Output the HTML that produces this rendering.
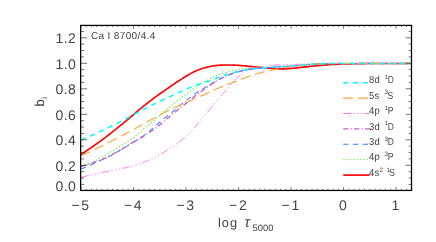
<!DOCTYPE html><html><head><meta charset="utf-8"><title>plot</title><style>html,body{margin:0;padding:0;background:#fff;}svg{display:block;will-change:transform}text{text-rendering:geometricPrecision;font-family:"Liberation Sans",sans-serif;fill:#444}</style></head><body>
<svg width="436" height="242" viewBox="0 0 436 242">
<rect width="436" height="242" fill="#fff"/>
<defs><clipPath id="c"><rect x="81.0" y="25.4" width="330.9" height="165.0"/></clipPath></defs>
<g clip-path="url(#c)" fill="none">
<path d="M81.0 154.6 L81.8 154.0 L82.7 153.5 L83.5 152.9 L84.3 152.3 L85.2 151.8 L86.0 151.2 L86.8 150.6 L87.6 150.0 L88.5 149.5 L89.3 148.9 L90.1 148.3 L91.0 147.7 L91.8 147.2 L92.6 146.6 L93.5 146.0 L94.3 145.4 L95.1 144.8 L95.9 144.3 L96.8 143.7 L97.6 143.1 L98.4 142.5 L99.3 141.9 L100.1 141.3 L100.9 140.7 L101.8 140.1 L102.6 139.5 L103.4 138.9 L104.2 138.3 L105.1 137.7 L105.9 137.1 L106.7 136.4 L107.6 135.8 L108.4 135.1 L109.2 134.5 L110.1 133.8 L110.9 133.2 L111.7 132.5 L112.5 131.8 L113.4 131.2 L114.2 130.5 L115.0 129.8 L115.9 129.2 L116.7 128.5 L117.5 127.8 L118.4 127.2 L119.2 126.5 L120.0 125.8 L120.8 125.2 L121.7 124.5 L122.5 123.8 L123.3 123.1 L124.2 122.5 L125.0 121.8 L125.8 121.1 L126.7 120.4 L127.5 119.7 L128.3 119.1 L129.1 118.4 L130.0 117.7 L130.8 116.9 L131.6 116.2 L132.5 115.5 L133.3 114.8 L134.1 114.1 L135.0 113.4 L135.8 112.6 L136.6 111.9 L137.4 111.2 L138.3 110.5 L139.1 109.8 L139.9 109.1 L140.8 108.4 L141.6 107.8 L142.4 107.1 L143.3 106.4 L144.1 105.7 L144.9 105.1 L145.7 104.4 L146.6 103.8 L147.4 103.1 L148.2 102.5 L149.1 101.8 L149.9 101.2 L150.7 100.5 L151.6 99.9 L152.4 99.3 L153.2 98.7 L154.0 98.0 L154.9 97.4 L155.7 96.8 L156.5 96.2 L157.4 95.6 L158.2 95.0 L159.0 94.4 L159.9 93.8 L160.7 93.2 L161.5 92.7 L162.3 92.1 L163.2 91.5 L164.0 90.9 L164.8 90.4 L165.7 89.8 L166.5 89.2 L167.3 88.6 L168.2 88.1 L169.0 87.5 L169.8 86.9 L170.6 86.3 L171.5 85.8 L172.3 85.2 L173.1 84.6 L174.0 84.1 L174.8 83.5 L175.6 82.9 L176.5 82.4 L177.3 81.8 L178.1 81.3 L178.9 80.7 L179.8 80.2 L180.6 79.6 L181.4 79.1 L182.3 78.6 L183.1 78.0 L183.9 77.5 L184.8 77.0 L185.6 76.5 L186.4 76.0 L187.2 75.5 L188.1 75.0 L188.9 74.5 L189.7 74.1 L190.6 73.6 L191.4 73.1 L192.2 72.7 L193.1 72.3 L193.9 71.8 L194.7 71.4 L195.6 71.0 L196.4 70.7 L197.2 70.3 L198.0 70.0 L198.9 69.7 L199.7 69.3 L200.5 69.1 L201.4 68.8 L202.2 68.5 L203.0 68.3 L203.9 68.0 L204.7 67.8 L205.5 67.6 L206.3 67.4 L207.2 67.1 L208.0 67.0 L208.8 66.8 L209.7 66.6 L210.5 66.4 L211.3 66.3 L212.2 66.1 L213.0 66.0 L213.8 65.8 L214.6 65.7 L215.5 65.6 L216.3 65.5 L217.1 65.4 L218.0 65.3 L218.8 65.2 L219.6 65.2 L220.5 65.1 L221.3 65.1 L222.1 65.1 L222.9 65.0 L223.8 65.0 L224.6 65.0 L225.4 65.0 L226.3 65.0 L227.1 65.0 L227.9 65.0 L228.8 65.0 L229.6 65.0 L230.4 65.0 L231.2 65.0 L232.1 65.0 L232.9 65.1 L233.7 65.1 L234.6 65.1 L235.4 65.2 L236.2 65.2 L237.1 65.2 L237.9 65.3 L238.7 65.4 L239.5 65.4 L240.4 65.5 L241.2 65.6 L242.0 65.6 L242.9 65.7 L243.7 65.8 L244.5 65.9 L245.4 65.9 L246.2 66.0 L247.0 66.1 L247.8 66.2 L248.7 66.3 L249.5 66.3 L250.3 66.4 L251.2 66.5 L252.0 66.6 L252.8 66.7 L253.7 66.7 L254.5 66.8 L255.3 66.9 L256.1 67.0 L257.0 67.1 L257.8 67.1 L258.6 67.2 L259.5 67.3 L260.3 67.4 L261.1 67.5 L262.0 67.6 L262.8 67.6 L263.6 67.7 L264.4 67.8 L265.3 67.9 L266.1 68.0 L266.9 68.0 L267.8 68.1 L268.6 68.2 L269.4 68.2 L270.3 68.3 L271.1 68.4 L271.9 68.4 L272.7 68.5 L273.6 68.6 L274.4 68.6 L275.2 68.7 L276.1 68.7 L276.9 68.7 L277.7 68.8 L278.6 68.8 L279.4 68.8 L280.2 68.8 L281.0 68.8 L281.9 68.8 L282.7 68.8 L283.5 68.8 L284.4 68.8 L285.2 68.8 L286.0 68.7 L286.9 68.7 L287.7 68.7 L288.5 68.6 L289.3 68.6 L290.2 68.5 L291.0 68.4 L291.8 68.4 L292.7 68.3 L293.5 68.2 L294.3 68.2 L295.2 68.1 L296.0 68.0 L296.8 67.9 L297.6 67.8 L298.5 67.7 L299.3 67.6 L300.1 67.5 L301.0 67.4 L301.8 67.3 L302.6 67.2 L303.5 67.1 L304.3 67.0 L305.1 66.9 L306.0 66.8 L306.8 66.8 L307.6 66.7 L308.4 66.6 L309.3 66.5 L310.1 66.4 L310.9 66.3 L311.8 66.2 L312.6 66.1 L313.4 66.0 L314.3 66.0 L315.1 65.9 L315.9 65.8 L316.7 65.7 L317.6 65.6 L318.4 65.6 L319.2 65.5 L320.1 65.4 L320.9 65.3 L321.7 65.3 L322.6 65.2 L323.4 65.1 L324.2 65.1 L325.0 65.0 L325.9 64.9 L326.7 64.9 L327.5 64.8 L328.4 64.7 L329.2 64.7 L330.0 64.6 L330.9 64.6 L331.7 64.5 L332.5 64.5 L333.3 64.4 L334.2 64.4 L335.0 64.3 L335.8 64.3 L336.7 64.2 L337.5 64.2 L338.3 64.2 L339.2 64.1 L340.0 64.1 L340.8 64.1 L341.6 64.0 L342.5 64.0 L343.3 64.0 L344.1 64.0 L345.0 63.9 L345.8 63.9 L346.6 63.9 L347.5 63.9 L348.3 63.8 L349.1 63.8 L349.9 63.8 L350.8 63.8 L351.6 63.8 L352.4 63.8 L353.3 63.7 L354.1 63.7 L354.9 63.7 L355.8 63.7 L356.6 63.7 L357.4 63.7 L358.2 63.6 L359.1 63.6 L359.9 63.6 L360.7 63.6 L361.6 63.6 L362.4 63.6 L363.2 63.6 L364.1 63.6 L364.9 63.6 L365.7 63.6 L366.5 63.5 L367.4 63.5 L368.2 63.5 L369.0 63.5 L369.9 63.5 L370.7 63.5 L371.5 63.5 L372.4 63.5 L373.2 63.5 L374.0 63.5 L374.8 63.5 L375.7 63.5 L376.5 63.5 L377.3 63.5 L378.2 63.5 L379.0 63.5 L379.8 63.5 L380.7 63.5 L381.5 63.5 L382.3 63.5 L383.1 63.5 L384.0 63.5 L384.8 63.5 L385.6 63.5 L386.5 63.5 L387.3 63.5 L388.1 63.5 L389.0 63.5 L389.8 63.5 L390.6 63.5 L391.4 63.5 L392.3 63.5 L393.1 63.5 L393.9 63.5 L394.8 63.5 L395.6 63.5 L396.4 63.5 L397.3 63.5 L398.1 63.5 L398.9 63.5 L399.7 63.5 L400.6 63.5 L401.4 63.5 L402.2 63.5 L403.1 63.5 L403.9 63.5 L404.7 63.5 L405.6 63.5 L406.4 63.5 L407.2 63.5 L408.0 63.5 L408.9 63.5 L409.7 63.5 L410.5 63.5 L411.4 63.5 L412.2 63.5" stroke="#ff0000" stroke-width="1.65"/>
<path d="M81.0 166.5 L81.8 166.3 L82.7 166.0 L83.5 165.8 L84.3 165.5 L85.2 165.2 L86.0 164.9 L86.8 164.6 L87.6 164.3 L88.5 163.9 L89.3 163.6 L90.1 163.2 L91.0 162.9 L91.8 162.5 L92.6 162.1 L93.5 161.7 L94.3 161.3 L95.1 160.8 L95.9 160.4 L96.8 160.0 L97.6 159.5 L98.4 159.1 L99.3 158.6 L100.1 158.2 L100.9 157.7 L101.8 157.3 L102.6 156.8 L103.4 156.3 L104.2 155.8 L105.1 155.4 L105.9 154.9 L106.7 154.4 L107.6 153.9 L108.4 153.4 L109.2 152.9 L110.1 152.4 L110.9 151.8 L111.7 151.3 L112.5 150.8 L113.4 150.3 L114.2 149.8 L115.0 149.3 L115.9 148.8 L116.7 148.3 L117.5 147.7 L118.4 147.2 L119.2 146.7 L120.0 146.2 L120.8 145.7 L121.7 145.2 L122.5 144.7 L123.3 144.2 L124.2 143.7 L125.0 143.2 L125.8 142.7 L126.7 142.2 L127.5 141.7 L128.3 141.1 L129.1 140.6 L130.0 140.0 L130.8 139.5 L131.6 138.9 L132.5 138.3 L133.3 137.7 L134.1 137.0 L135.0 136.3 L135.8 135.7 L136.6 135.0 L137.4 134.3 L138.3 133.5 L139.1 132.8 L139.9 132.1 L140.8 131.3 L141.6 130.6 L142.4 129.9 L143.3 129.2 L144.1 128.5 L144.9 127.8 L145.7 127.1 L146.6 126.4 L147.4 125.7 L148.2 125.0 L149.1 124.3 L149.9 123.7 L150.7 123.0 L151.6 122.3 L152.4 121.6 L153.2 120.9 L154.0 120.2 L154.9 119.6 L155.7 118.9 L156.5 118.2 L157.4 117.5 L158.2 116.9 L159.0 116.2 L159.9 115.5 L160.7 114.8 L161.5 114.1 L162.3 113.5 L163.2 112.8 L164.0 112.1 L164.8 111.4 L165.7 110.6 L166.5 109.9 L167.3 109.2 L168.2 108.5 L169.0 107.8 L169.8 107.1 L170.6 106.3 L171.5 105.6 L172.3 104.9 L173.1 104.2 L174.0 103.5 L174.8 102.8 L175.6 102.1 L176.5 101.4 L177.3 100.8 L178.1 100.1 L178.9 99.5 L179.8 98.8 L180.6 98.2 L181.4 97.5 L182.3 96.9 L183.1 96.3 L183.9 95.7 L184.8 95.0 L185.6 94.4 L186.4 93.8 L187.2 93.2 L188.1 92.6 L188.9 92.0 L189.7 91.3 L190.6 90.7 L191.4 90.1 L192.2 89.5 L193.1 88.9 L193.9 88.4 L194.7 87.8 L195.6 87.2 L196.4 86.7 L197.2 86.1 L198.0 85.6 L198.9 85.1 L199.7 84.5 L200.5 84.0 L201.4 83.5 L202.2 83.0 L203.0 82.6 L203.9 82.1 L204.7 81.6 L205.5 81.2 L206.3 80.7 L207.2 80.3 L208.0 79.8 L208.8 79.4 L209.7 79.0 L210.5 78.5 L211.3 78.1 L212.2 77.7 L213.0 77.3 L213.8 76.9 L214.6 76.5 L215.5 76.2 L216.3 75.8 L217.1 75.5 L218.0 75.1 L218.8 74.8 L219.6 74.4 L220.5 74.1 L221.3 73.8 L222.1 73.5 L222.9 73.3 L223.8 73.0 L224.6 72.7 L225.4 72.5 L226.3 72.2 L227.1 72.0 L227.9 71.7 L228.8 71.5 L229.6 71.3 L230.4 71.1 L231.2 70.9 L232.1 70.7 L232.9 70.5 L233.7 70.4 L234.6 70.2 L235.4 70.1 L236.2 69.9 L237.1 69.8 L237.9 69.6 L238.7 69.5 L239.5 69.4 L240.4 69.3 L241.2 69.2 L242.0 69.1 L242.9 69.0 L243.7 68.9 L244.5 68.8 L245.4 68.7 L246.2 68.6 L247.0 68.5 L247.8 68.5 L248.7 68.4 L249.5 68.3 L250.3 68.2 L251.2 68.2 L252.0 68.1 L252.8 68.1 L253.7 68.0 L254.5 67.9 L255.3 67.9 L256.1 67.8 L257.0 67.8 L257.8 67.8 L258.6 67.7 L259.5 67.7 L260.3 67.6 L261.1 67.6 L262.0 67.6 L262.8 67.5 L263.6 67.5 L264.4 67.5 L265.3 67.4 L266.1 67.4 L266.9 67.4 L267.8 67.3 L268.6 67.3 L269.4 67.3 L270.3 67.2 L271.1 67.2 L271.9 67.2 L272.7 67.1 L273.6 67.1 L274.4 67.0 L275.2 67.0 L276.1 67.0 L276.9 66.9 L277.7 66.9 L278.6 66.8 L279.4 66.8 L280.2 66.8 L281.0 66.7 L281.9 66.7 L282.7 66.6 L283.5 66.6 L284.4 66.5 L285.2 66.5 L286.0 66.4 L286.9 66.4 L287.7 66.3 L288.5 66.2 L289.3 66.2 L290.2 66.1 L291.0 66.1 L291.8 66.0 L292.7 65.9 L293.5 65.9 L294.3 65.8 L295.2 65.7 L296.0 65.6 L296.8 65.6 L297.6 65.5 L298.5 65.4 L299.3 65.4 L300.1 65.3 L301.0 65.2 L301.8 65.1 L302.6 65.1 L303.5 65.0 L304.3 64.9 L305.1 64.8 L306.0 64.8 L306.8 64.7 L307.6 64.6 L308.4 64.5 L309.3 64.5 L310.1 64.4 L310.9 64.3 L311.8 64.3 L312.6 64.2 L313.4 64.1 L314.3 64.1 L315.1 64.0 L315.9 64.0 L316.7 63.9 L317.6 63.9 L318.4 63.8 L319.2 63.8 L320.1 63.8 L320.9 63.7 L321.7 63.7 L322.6 63.7 L323.4 63.6 L324.2 63.6 L325.0 63.6 L325.9 63.6 L326.7 63.6 L327.5 63.6 L328.4 63.6 L329.2 63.5 L330.0 63.5 L330.9 63.5 L331.7 63.5 L332.5 63.5 L333.3 63.5 L334.2 63.5 L335.0 63.5 L335.8 63.5 L336.7 63.5 L337.5 63.5 L338.3 63.5 L339.2 63.5 L340.0 63.5 L340.8 63.5 L341.6 63.5 L342.5 63.5 L343.3 63.5 L344.1 63.5 L345.0 63.5 L345.8 63.5 L346.6 63.5 L347.5 63.5 L348.3 63.5 L349.1 63.5 L349.9 63.5 L350.8 63.5 L351.6 63.5 L352.4 63.5 L353.3 63.5 L354.1 63.5 L354.9 63.5 L355.8 63.5 L356.6 63.5 L357.4 63.5 L358.2 63.5 L359.1 63.5 L359.9 63.5 L360.7 63.5 L361.6 63.5 L362.4 63.5 L363.2 63.5 L364.1 63.5 L364.9 63.5 L365.7 63.5 L366.5 63.5 L367.4 63.5 L368.2 63.5 L369.0 63.5 L369.9 63.5 L370.7 63.5 L371.5 63.5 L372.4 63.5 L373.2 63.5 L374.0 63.5 L374.8 63.5 L375.7 63.5 L376.5 63.5 L377.3 63.5 L378.2 63.5 L379.0 63.5 L379.8 63.5 L380.7 63.5 L381.5 63.5 L382.3 63.5 L383.1 63.5 L384.0 63.5 L384.8 63.5 L385.6 63.5 L386.5 63.5 L387.3 63.5 L388.1 63.5 L389.0 63.5 L389.8 63.5 L390.6 63.5 L391.4 63.5 L392.3 63.5 L393.1 63.5 L393.9 63.5 L394.8 63.5 L395.6 63.5 L396.4 63.5 L397.3 63.5 L398.1 63.5 L398.9 63.5 L399.7 63.5 L400.6 63.5 L401.4 63.5 L402.2 63.5 L403.1 63.5 L403.9 63.5 L404.7 63.5 L405.6 63.5 L406.4 63.5 L407.2 63.5 L408.0 63.5 L408.9 63.5 L409.7 63.5 L410.5 63.5 L411.4 63.5 L412.2 63.5" stroke="#58ee32" stroke-width="1.35" stroke-dasharray="0.01 3.34" stroke-linecap="round"/>
<path d="M81.0 169.0 L81.8 168.7 L82.7 168.4 L83.5 168.1 L84.3 167.7 L85.2 167.4 L86.0 167.1 L86.8 166.7 L87.6 166.4 L88.5 166.0 L89.3 165.7 L90.1 165.3 L91.0 164.9 L91.8 164.5 L92.6 164.1 L93.5 163.7 L94.3 163.3 L95.1 162.9 L95.9 162.5 L96.8 162.1 L97.6 161.7 L98.4 161.3 L99.3 160.9 L100.1 160.5 L100.9 160.2 L101.8 159.8 L102.6 159.4 L103.4 159.1 L104.2 158.7 L105.1 158.3 L105.9 158.0 L106.7 157.6 L107.6 157.2 L108.4 156.8 L109.2 156.4 L110.1 155.9 L110.9 155.5 L111.7 155.1 L112.5 154.6 L113.4 154.2 L114.2 153.7 L115.0 153.2 L115.9 152.8 L116.7 152.3 L117.5 151.8 L118.4 151.3 L119.2 150.8 L120.0 150.3 L120.8 149.9 L121.7 149.4 L122.5 148.9 L123.3 148.4 L124.2 147.9 L125.0 147.4 L125.8 146.9 L126.7 146.4 L127.5 145.9 L128.3 145.3 L129.1 144.8 L130.0 144.3 L130.8 143.8 L131.6 143.3 L132.5 142.8 L133.3 142.3 L134.1 141.8 L135.0 141.3 L135.8 140.8 L136.6 140.3 L137.4 139.7 L138.3 139.2 L139.1 138.7 L139.9 138.1 L140.8 137.6 L141.6 137.0 L142.4 136.4 L143.3 135.9 L144.1 135.3 L144.9 134.7 L145.7 134.0 L146.6 133.4 L147.4 132.8 L148.2 132.1 L149.1 131.4 L149.9 130.8 L150.7 130.1 L151.6 129.4 L152.4 128.7 L153.2 128.0 L154.0 127.2 L154.9 126.5 L155.7 125.8 L156.5 125.1 L157.4 124.3 L158.2 123.6 L159.0 122.9 L159.9 122.1 L160.7 121.4 L161.5 120.7 L162.3 120.0 L163.2 119.3 L164.0 118.6 L164.8 117.9 L165.7 117.2 L166.5 116.6 L167.3 115.9 L168.2 115.3 L169.0 114.6 L169.8 113.9 L170.6 113.3 L171.5 112.6 L172.3 112.0 L173.1 111.3 L174.0 110.6 L174.8 109.9 L175.6 109.2 L176.5 108.5 L177.3 107.8 L178.1 107.1 L178.9 106.4 L179.8 105.7 L180.6 105.0 L181.4 104.3 L182.3 103.6 L183.1 102.9 L183.9 102.2 L184.8 101.6 L185.6 100.9 L186.4 100.2 L187.2 99.6 L188.1 98.9 L188.9 98.3 L189.7 97.6 L190.6 97.0 L191.4 96.4 L192.2 95.8 L193.1 95.2 L193.9 94.6 L194.7 94.0 L195.6 93.4 L196.4 92.9 L197.2 92.3 L198.0 91.8 L198.9 91.2 L199.7 90.7 L200.5 90.1 L201.4 89.6 L202.2 89.1 L203.0 88.6 L203.9 88.1 L204.7 87.6 L205.5 87.1 L206.3 86.6 L207.2 86.1 L208.0 85.6 L208.8 85.2 L209.7 84.7 L210.5 84.2 L211.3 83.8 L212.2 83.3 L213.0 82.8 L213.8 82.3 L214.6 81.9 L215.5 81.4 L216.3 81.0 L217.1 80.5 L218.0 80.1 L218.8 79.6 L219.6 79.2 L220.5 78.8 L221.3 78.3 L222.1 77.9 L222.9 77.5 L223.8 77.2 L224.6 76.8 L225.4 76.4 L226.3 76.1 L227.1 75.7 L227.9 75.4 L228.8 75.0 L229.6 74.7 L230.4 74.4 L231.2 74.1 L232.1 73.8 L232.9 73.5 L233.7 73.2 L234.6 72.9 L235.4 72.7 L236.2 72.4 L237.1 72.2 L237.9 72.0 L238.7 71.7 L239.5 71.5 L240.4 71.3 L241.2 71.1 L242.0 70.9 L242.9 70.7 L243.7 70.5 L244.5 70.3 L245.4 70.2 L246.2 70.0 L247.0 69.8 L247.8 69.7 L248.7 69.5 L249.5 69.4 L250.3 69.2 L251.2 69.1 L252.0 69.0 L252.8 68.8 L253.7 68.7 L254.5 68.6 L255.3 68.5 L256.1 68.4 L257.0 68.3 L257.8 68.2 L258.6 68.1 L259.5 68.1 L260.3 68.0 L261.1 67.9 L262.0 67.9 L262.8 67.8 L263.6 67.7 L264.4 67.7 L265.3 67.6 L266.1 67.6 L266.9 67.5 L267.8 67.5 L268.6 67.4 L269.4 67.4 L270.3 67.3 L271.1 67.3 L271.9 67.2 L272.7 67.2 L273.6 67.2 L274.4 67.1 L275.2 67.1 L276.1 67.0 L276.9 67.0 L277.7 66.9 L278.6 66.9 L279.4 66.8 L280.2 66.8 L281.0 66.7 L281.9 66.7 L282.7 66.6 L283.5 66.6 L284.4 66.5 L285.2 66.5 L286.0 66.4 L286.9 66.4 L287.7 66.3 L288.5 66.2 L289.3 66.2 L290.2 66.1 L291.0 66.0 L291.8 66.0 L292.7 65.9 L293.5 65.8 L294.3 65.8 L295.2 65.7 L296.0 65.6 L296.8 65.6 L297.6 65.5 L298.5 65.4 L299.3 65.4 L300.1 65.3 L301.0 65.2 L301.8 65.1 L302.6 65.1 L303.5 65.0 L304.3 64.9 L305.1 64.8 L306.0 64.8 L306.8 64.7 L307.6 64.6 L308.4 64.5 L309.3 64.5 L310.1 64.4 L310.9 64.3 L311.8 64.3 L312.6 64.2 L313.4 64.1 L314.3 64.1 L315.1 64.0 L315.9 64.0 L316.7 63.9 L317.6 63.9 L318.4 63.8 L319.2 63.8 L320.1 63.8 L320.9 63.7 L321.7 63.7 L322.6 63.7 L323.4 63.6 L324.2 63.6 L325.0 63.6 L325.9 63.6 L326.7 63.6 L327.5 63.6 L328.4 63.6 L329.2 63.5 L330.0 63.5 L330.9 63.5 L331.7 63.5 L332.5 63.5 L333.3 63.5 L334.2 63.5 L335.0 63.5 L335.8 63.5 L336.7 63.5 L337.5 63.5 L338.3 63.5 L339.2 63.5 L340.0 63.5 L340.8 63.5 L341.6 63.5 L342.5 63.5 L343.3 63.5 L344.1 63.5 L345.0 63.5 L345.8 63.5 L346.6 63.5 L347.5 63.5 L348.3 63.5 L349.1 63.5 L349.9 63.5 L350.8 63.5 L351.6 63.5 L352.4 63.5 L353.3 63.5 L354.1 63.5 L354.9 63.5 L355.8 63.5 L356.6 63.5 L357.4 63.5 L358.2 63.5 L359.1 63.5 L359.9 63.5 L360.7 63.5 L361.6 63.5 L362.4 63.5 L363.2 63.5 L364.1 63.5 L364.9 63.5 L365.7 63.5 L366.5 63.5 L367.4 63.5 L368.2 63.5 L369.0 63.5 L369.9 63.5 L370.7 63.5 L371.5 63.5 L372.4 63.5 L373.2 63.5 L374.0 63.5 L374.8 63.5 L375.7 63.5 L376.5 63.5 L377.3 63.5 L378.2 63.5 L379.0 63.5 L379.8 63.5 L380.7 63.5 L381.5 63.5 L382.3 63.5 L383.1 63.5 L384.0 63.5 L384.8 63.5 L385.6 63.5 L386.5 63.5 L387.3 63.5 L388.1 63.5 L389.0 63.5 L389.8 63.5 L390.6 63.5 L391.4 63.5 L392.3 63.5 L393.1 63.5 L393.9 63.5 L394.8 63.5 L395.6 63.5 L396.4 63.5 L397.3 63.5 L398.1 63.5 L398.9 63.5 L399.7 63.5 L400.6 63.5 L401.4 63.5 L402.2 63.5 L403.1 63.5 L403.9 63.5 L404.7 63.5 L405.6 63.5 L406.4 63.5 L407.2 63.5 L408.0 63.5 L408.9 63.5 L409.7 63.5 L410.5 63.5 L411.4 63.5 L412.2 63.5" stroke="#3580ff" stroke-width="1.05" stroke-dasharray="5.3 4.45"/>
<path d="M81.0 166.5 L81.8 166.2 L82.7 166.0 L83.5 165.8 L84.3 165.5 L85.2 165.3 L86.0 165.0 L86.8 164.7 L87.6 164.5 L88.5 164.2 L89.3 164.0 L90.1 163.7 L91.0 163.4 L91.8 163.1 L92.6 162.9 L93.5 162.6 L94.3 162.3 L95.1 162.0 L95.9 161.7 L96.8 161.4 L97.6 161.1 L98.4 160.8 L99.3 160.5 L100.1 160.2 L100.9 159.9 L101.8 159.6 L102.6 159.2 L103.4 158.9 L104.2 158.5 L105.1 158.2 L105.9 157.8 L106.7 157.4 L107.6 157.0 L108.4 156.6 L109.2 156.2 L110.1 155.7 L110.9 155.3 L111.7 154.9 L112.5 154.4 L113.4 154.0 L114.2 153.5 L115.0 153.0 L115.9 152.5 L116.7 152.1 L117.5 151.6 L118.4 151.1 L119.2 150.6 L120.0 150.1 L120.8 149.6 L121.7 149.1 L122.5 148.6 L123.3 148.1 L124.2 147.6 L125.0 147.1 L125.8 146.6 L126.7 146.1 L127.5 145.6 L128.3 145.1 L129.1 144.6 L130.0 144.2 L130.8 143.7 L131.6 143.2 L132.5 142.7 L133.3 142.2 L134.1 141.7 L135.0 141.2 L135.8 140.8 L136.6 140.3 L137.4 139.8 L138.3 139.3 L139.1 138.8 L139.9 138.3 L140.8 137.8 L141.6 137.3 L142.4 136.8 L143.3 136.3 L144.1 135.8 L144.9 135.3 L145.7 134.7 L146.6 134.2 L147.4 133.7 L148.2 133.1 L149.1 132.6 L149.9 132.0 L150.7 131.5 L151.6 130.9 L152.4 130.3 L153.2 129.8 L154.0 129.2 L154.9 128.6 L155.7 128.0 L156.5 127.4 L157.4 126.7 L158.2 126.1 L159.0 125.4 L159.9 124.8 L160.7 124.1 L161.5 123.4 L162.3 122.7 L163.2 122.0 L164.0 121.3 L164.8 120.6 L165.7 119.8 L166.5 119.1 L167.3 118.4 L168.2 117.7 L169.0 117.0 L169.8 116.3 L170.6 115.6 L171.5 115.0 L172.3 114.3 L173.1 113.6 L174.0 112.9 L174.8 112.3 L175.6 111.6 L176.5 111.0 L177.3 110.3 L178.1 109.6 L178.9 109.0 L179.8 108.3 L180.6 107.6 L181.4 107.0 L182.3 106.3 L183.1 105.6 L183.9 104.9 L184.8 104.3 L185.6 103.6 L186.4 102.9 L187.2 102.2 L188.1 101.6 L188.9 100.9 L189.7 100.2 L190.6 99.5 L191.4 98.9 L192.2 98.2 L193.1 97.6 L193.9 96.9 L194.7 96.3 L195.6 95.6 L196.4 95.0 L197.2 94.4 L198.0 93.7 L198.9 93.1 L199.7 92.5 L200.5 91.9 L201.4 91.3 L202.2 90.7 L203.0 90.1 L203.9 89.5 L204.7 88.9 L205.5 88.3 L206.3 87.7 L207.2 87.2 L208.0 86.6 L208.8 86.0 L209.7 85.4 L210.5 84.8 L211.3 84.3 L212.2 83.7 L213.0 83.1 L213.8 82.6 L214.6 82.0 L215.5 81.5 L216.3 81.0 L217.1 80.5 L218.0 80.0 L218.8 79.5 L219.6 79.0 L220.5 78.6 L221.3 78.1 L222.1 77.7 L222.9 77.3 L223.8 76.9 L224.6 76.6 L225.4 76.2 L226.3 75.8 L227.1 75.5 L227.9 75.2 L228.8 74.8 L229.6 74.5 L230.4 74.2 L231.2 73.9 L232.1 73.6 L232.9 73.4 L233.7 73.1 L234.6 72.8 L235.4 72.6 L236.2 72.3 L237.1 72.1 L237.9 71.8 L238.7 71.6 L239.5 71.4 L240.4 71.2 L241.2 71.0 L242.0 70.8 L242.9 70.6 L243.7 70.4 L244.5 70.2 L245.4 70.1 L246.2 69.9 L247.0 69.7 L247.8 69.6 L248.7 69.4 L249.5 69.3 L250.3 69.2 L251.2 69.0 L252.0 68.9 L252.8 68.8 L253.7 68.7 L254.5 68.6 L255.3 68.5 L256.1 68.4 L257.0 68.3 L257.8 68.2 L258.6 68.1 L259.5 68.1 L260.3 68.0 L261.1 67.9 L262.0 67.9 L262.8 67.8 L263.6 67.7 L264.4 67.7 L265.3 67.6 L266.1 67.6 L266.9 67.5 L267.8 67.5 L268.6 67.4 L269.4 67.4 L270.3 67.3 L271.1 67.3 L271.9 67.2 L272.7 67.2 L273.6 67.2 L274.4 67.1 L275.2 67.1 L276.1 67.0 L276.9 67.0 L277.7 66.9 L278.6 66.9 L279.4 66.8 L280.2 66.8 L281.0 66.7 L281.9 66.7 L282.7 66.6 L283.5 66.6 L284.4 66.5 L285.2 66.5 L286.0 66.4 L286.9 66.4 L287.7 66.3 L288.5 66.2 L289.3 66.2 L290.2 66.1 L291.0 66.0 L291.8 66.0 L292.7 65.9 L293.5 65.8 L294.3 65.8 L295.2 65.7 L296.0 65.6 L296.8 65.6 L297.6 65.5 L298.5 65.4 L299.3 65.4 L300.1 65.3 L301.0 65.2 L301.8 65.1 L302.6 65.1 L303.5 65.0 L304.3 64.9 L305.1 64.8 L306.0 64.8 L306.8 64.7 L307.6 64.6 L308.4 64.5 L309.3 64.5 L310.1 64.4 L310.9 64.3 L311.8 64.3 L312.6 64.2 L313.4 64.1 L314.3 64.1 L315.1 64.0 L315.9 64.0 L316.7 63.9 L317.6 63.9 L318.4 63.8 L319.2 63.8 L320.1 63.8 L320.9 63.7 L321.7 63.7 L322.6 63.7 L323.4 63.6 L324.2 63.6 L325.0 63.6 L325.9 63.6 L326.7 63.6 L327.5 63.6 L328.4 63.6 L329.2 63.5 L330.0 63.5 L330.9 63.5 L331.7 63.5 L332.5 63.5 L333.3 63.5 L334.2 63.5 L335.0 63.5 L335.8 63.5 L336.7 63.5 L337.5 63.5 L338.3 63.5 L339.2 63.5 L340.0 63.5 L340.8 63.5 L341.6 63.5 L342.5 63.5 L343.3 63.5 L344.1 63.5 L345.0 63.5 L345.8 63.5 L346.6 63.5 L347.5 63.5 L348.3 63.5 L349.1 63.5 L349.9 63.5 L350.8 63.5 L351.6 63.5 L352.4 63.5 L353.3 63.5 L354.1 63.5 L354.9 63.5 L355.8 63.5 L356.6 63.5 L357.4 63.5 L358.2 63.5 L359.1 63.5 L359.9 63.5 L360.7 63.5 L361.6 63.5 L362.4 63.5 L363.2 63.5 L364.1 63.5 L364.9 63.5 L365.7 63.5 L366.5 63.5 L367.4 63.5 L368.2 63.5 L369.0 63.5 L369.9 63.5 L370.7 63.5 L371.5 63.5 L372.4 63.5 L373.2 63.5 L374.0 63.5 L374.8 63.5 L375.7 63.5 L376.5 63.5 L377.3 63.5 L378.2 63.5 L379.0 63.5 L379.8 63.5 L380.7 63.5 L381.5 63.5 L382.3 63.5 L383.1 63.5 L384.0 63.5 L384.8 63.5 L385.6 63.5 L386.5 63.5 L387.3 63.5 L388.1 63.5 L389.0 63.5 L389.8 63.5 L390.6 63.5 L391.4 63.5 L392.3 63.5 L393.1 63.5 L393.9 63.5 L394.8 63.5 L395.6 63.5 L396.4 63.5 L397.3 63.5 L398.1 63.5 L398.9 63.5 L399.7 63.5 L400.6 63.5 L401.4 63.5 L402.2 63.5 L403.1 63.5 L403.9 63.5 L404.7 63.5 L405.6 63.5 L406.4 63.5 L407.2 63.5 L408.0 63.5 L408.9 63.5 L409.7 63.5 L410.5 63.5 L411.4 63.5 L412.2 63.5" stroke="#c45fd0" stroke-width="1.40" stroke-dasharray="5.2 2.4 1 2.35"/>
<path d="M81.0 177.2 L81.8 177.0 L82.7 176.8 L83.5 176.6 L84.3 176.5 L85.2 176.3 L86.0 176.1 L86.8 175.9 L87.6 175.7 L88.5 175.5 L89.3 175.3 L90.1 175.2 L91.0 175.0 L91.8 174.8 L92.6 174.6 L93.5 174.4 L94.3 174.2 L95.1 174.0 L95.9 173.9 L96.8 173.7 L97.6 173.5 L98.4 173.3 L99.3 173.1 L100.1 172.9 L100.9 172.8 L101.8 172.6 L102.6 172.4 L103.4 172.2 L104.2 172.1 L105.1 171.9 L105.9 171.7 L106.7 171.5 L107.6 171.4 L108.4 171.2 L109.2 171.1 L110.1 170.9 L110.9 170.7 L111.7 170.6 L112.5 170.4 L113.4 170.3 L114.2 170.1 L115.0 169.9 L115.9 169.8 L116.7 169.6 L117.5 169.4 L118.4 169.3 L119.2 169.1 L120.0 168.9 L120.8 168.7 L121.7 168.5 L122.5 168.4 L123.3 168.2 L124.2 168.0 L125.0 167.8 L125.8 167.6 L126.7 167.4 L127.5 167.1 L128.3 166.9 L129.1 166.7 L130.0 166.5 L130.8 166.3 L131.6 166.0 L132.5 165.8 L133.3 165.6 L134.1 165.3 L135.0 165.1 L135.8 164.8 L136.6 164.6 L137.4 164.3 L138.3 164.1 L139.1 163.8 L139.9 163.5 L140.8 163.2 L141.6 163.0 L142.4 162.7 L143.3 162.4 L144.1 162.0 L144.9 161.7 L145.7 161.4 L146.6 161.1 L147.4 160.7 L148.2 160.4 L149.1 160.0 L149.9 159.6 L150.7 159.3 L151.6 158.9 L152.4 158.5 L153.2 158.1 L154.0 157.7 L154.9 157.3 L155.7 156.8 L156.5 156.4 L157.4 156.0 L158.2 155.5 L159.0 155.1 L159.9 154.6 L160.7 154.1 L161.5 153.6 L162.3 153.1 L163.2 152.6 L164.0 152.1 L164.8 151.6 L165.7 151.1 L166.5 150.6 L167.3 150.0 L168.2 149.5 L169.0 149.0 L169.8 148.4 L170.6 147.9 L171.5 147.3 L172.3 146.8 L173.1 146.2 L174.0 145.6 L174.8 145.0 L175.6 144.5 L176.5 143.9 L177.3 143.3 L178.1 142.7 L178.9 142.1 L179.8 141.5 L180.6 140.8 L181.4 140.2 L182.3 139.6 L183.1 138.9 L183.9 138.3 L184.8 137.6 L185.6 136.9 L186.4 136.2 L187.2 135.4 L188.1 134.6 L188.9 133.8 L189.7 133.0 L190.6 132.1 L191.4 131.2 L192.2 130.3 L193.1 129.3 L193.9 128.3 L194.7 127.4 L195.6 126.4 L196.4 125.4 L197.2 124.4 L198.0 123.4 L198.9 122.4 L199.7 121.5 L200.5 120.5 L201.4 119.5 L202.2 118.6 L203.0 117.6 L203.9 116.6 L204.7 115.7 L205.5 114.7 L206.3 113.7 L207.2 112.7 L208.0 111.6 L208.8 110.6 L209.7 109.6 L210.5 108.5 L211.3 107.5 L212.2 106.4 L213.0 105.4 L213.8 104.3 L214.6 103.3 L215.5 102.3 L216.3 101.3 L217.1 100.4 L218.0 99.4 L218.8 98.5 L219.6 97.5 L220.5 96.6 L221.3 95.6 L222.1 94.7 L222.9 93.7 L223.8 92.7 L224.6 91.8 L225.4 90.8 L226.3 89.8 L227.1 88.8 L227.9 87.8 L228.8 86.8 L229.6 85.8 L230.4 84.9 L231.2 83.9 L232.1 82.9 L232.9 82.0 L233.7 81.1 L234.6 80.2 L235.4 79.3 L236.2 78.5 L237.1 77.7 L237.9 76.9 L238.7 76.2 L239.5 75.4 L240.4 74.8 L241.2 74.2 L242.0 73.6 L242.9 73.0 L243.7 72.5 L244.5 72.0 L245.4 71.6 L246.2 71.1 L247.0 70.7 L247.8 70.4 L248.7 70.0 L249.5 69.7 L250.3 69.4 L251.2 69.1 L252.0 68.8 L252.8 68.6 L253.7 68.3 L254.5 68.1 L255.3 67.9 L256.1 67.7 L257.0 67.5 L257.8 67.4 L258.6 67.2 L259.5 67.0 L260.3 66.9 L261.1 66.7 L262.0 66.6 L262.8 66.5 L263.6 66.3 L264.4 66.2 L265.3 66.1 L266.1 66.0 L266.9 65.9 L267.8 65.8 L268.6 65.7 L269.4 65.6 L270.3 65.5 L271.1 65.5 L271.9 65.4 L272.7 65.3 L273.6 65.3 L274.4 65.2 L275.2 65.2 L276.1 65.1 L276.9 65.1 L277.7 65.0 L278.6 65.0 L279.4 65.0 L280.2 64.9 L281.0 64.9 L281.9 64.9 L282.7 64.8 L283.5 64.8 L284.4 64.8 L285.2 64.7 L286.0 64.7 L286.9 64.7 L287.7 64.7 L288.5 64.6 L289.3 64.6 L290.2 64.6 L291.0 64.5 L291.8 64.5 L292.7 64.5 L293.5 64.5 L294.3 64.4 L295.2 64.4 L296.0 64.4 L296.8 64.3 L297.6 64.3 L298.5 64.3 L299.3 64.2 L300.1 64.2 L301.0 64.2 L301.8 64.2 L302.6 64.1 L303.5 64.1 L304.3 64.1 L305.1 64.0 L306.0 64.0 L306.8 64.0 L307.6 64.0 L308.4 63.9 L309.3 63.9 L310.1 63.9 L310.9 63.8 L311.8 63.8 L312.6 63.8 L313.4 63.7 L314.3 63.7 L315.1 63.7 L315.9 63.6 L316.7 63.6 L317.6 63.6 L318.4 63.6 L319.2 63.6 L320.1 63.5 L320.9 63.5 L321.7 63.5 L322.6 63.5 L323.4 63.5 L324.2 63.5 L325.0 63.5 L325.9 63.5 L326.7 63.5 L327.5 63.5 L328.4 63.5 L329.2 63.5 L330.0 63.5 L330.9 63.5 L331.7 63.5 L332.5 63.5 L333.3 63.5 L334.2 63.5 L335.0 63.5 L335.8 63.5 L336.7 63.5 L337.5 63.5 L338.3 63.5 L339.2 63.5 L340.0 63.5 L340.8 63.5 L341.6 63.5 L342.5 63.5 L343.3 63.5 L344.1 63.5 L345.0 63.5 L345.8 63.5 L346.6 63.5 L347.5 63.5 L348.3 63.5 L349.1 63.5 L349.9 63.5 L350.8 63.5 L351.6 63.5 L352.4 63.5 L353.3 63.5 L354.1 63.5 L354.9 63.5 L355.8 63.5 L356.6 63.5 L357.4 63.5 L358.2 63.5 L359.1 63.5 L359.9 63.5 L360.7 63.5 L361.6 63.5 L362.4 63.5 L363.2 63.5 L364.1 63.5 L364.9 63.5 L365.7 63.5 L366.5 63.5 L367.4 63.5 L368.2 63.5 L369.0 63.5 L369.9 63.5 L370.7 63.5 L371.5 63.5 L372.4 63.5 L373.2 63.5 L374.0 63.5 L374.8 63.5 L375.7 63.5 L376.5 63.5 L377.3 63.5 L378.2 63.5 L379.0 63.5 L379.8 63.5 L380.7 63.5 L381.5 63.5 L382.3 63.5 L383.1 63.5 L384.0 63.5 L384.8 63.5 L385.6 63.5 L386.5 63.5 L387.3 63.5 L388.1 63.5 L389.0 63.5 L389.8 63.5 L390.6 63.5 L391.4 63.5 L392.3 63.5 L393.1 63.5 L393.9 63.5 L394.8 63.5 L395.6 63.5 L396.4 63.5 L397.3 63.5 L398.1 63.5 L398.9 63.5 L399.7 63.5 L400.6 63.5 L401.4 63.5 L402.2 63.5 L403.1 63.5 L403.9 63.5 L404.7 63.5 L405.6 63.5 L406.4 63.5 L407.2 63.5 L408.0 63.5 L408.9 63.5 L409.7 63.5 L410.5 63.5 L411.4 63.5 L412.2 63.5" stroke="#ff62ff" stroke-width="0.90" stroke-dasharray="7.8 2.3 1.2 2.6 1.2 2.6 1.2 2.1"/>
<path d="M81.0 155.6 L81.8 155.2 L82.7 154.9 L83.5 154.6 L84.3 154.2 L85.2 153.9 L86.0 153.5 L86.8 153.1 L87.6 152.8 L88.5 152.4 L89.3 152.1 L90.1 151.7 L91.0 151.3 L91.8 150.9 L92.6 150.5 L93.5 150.1 L94.3 149.7 L95.1 149.3 L95.9 148.9 L96.8 148.5 L97.6 148.1 L98.4 147.7 L99.3 147.3 L100.1 146.9 L100.9 146.4 L101.8 146.0 L102.6 145.6 L103.4 145.2 L104.2 144.7 L105.1 144.3 L105.9 143.9 L106.7 143.5 L107.6 143.0 L108.4 142.6 L109.2 142.2 L110.1 141.8 L110.9 141.3 L111.7 140.9 L112.5 140.5 L113.4 140.0 L114.2 139.6 L115.0 139.2 L115.9 138.8 L116.7 138.3 L117.5 137.9 L118.4 137.5 L119.2 137.0 L120.0 136.6 L120.8 136.2 L121.7 135.8 L122.5 135.3 L123.3 134.9 L124.2 134.5 L125.0 134.1 L125.8 133.6 L126.7 133.2 L127.5 132.8 L128.3 132.3 L129.1 131.9 L130.0 131.4 L130.8 131.0 L131.6 130.5 L132.5 130.1 L133.3 129.6 L134.1 129.2 L135.0 128.7 L135.8 128.2 L136.6 127.8 L137.4 127.3 L138.3 126.8 L139.1 126.4 L139.9 125.9 L140.8 125.4 L141.6 125.0 L142.4 124.5 L143.3 124.1 L144.1 123.6 L144.9 123.1 L145.7 122.7 L146.6 122.2 L147.4 121.8 L148.2 121.3 L149.1 120.9 L149.9 120.5 L150.7 120.0 L151.6 119.6 L152.4 119.1 L153.2 118.7 L154.0 118.2 L154.9 117.8 L155.7 117.3 L156.5 116.9 L157.4 116.4 L158.2 116.0 L159.0 115.5 L159.9 115.1 L160.7 114.6 L161.5 114.2 L162.3 113.7 L163.2 113.3 L164.0 112.8 L164.8 112.4 L165.7 112.0 L166.5 111.5 L167.3 111.1 L168.2 110.7 L169.0 110.3 L169.8 109.9 L170.6 109.4 L171.5 109.0 L172.3 108.6 L173.1 108.2 L174.0 107.8 L174.8 107.5 L175.6 107.1 L176.5 106.7 L177.3 106.3 L178.1 105.9 L178.9 105.6 L179.8 105.2 L180.6 104.9 L181.4 104.5 L182.3 104.1 L183.1 103.8 L183.9 103.4 L184.8 103.1 L185.6 102.7 L186.4 102.4 L187.2 102.0 L188.1 101.7 L188.9 101.3 L189.7 101.0 L190.6 100.6 L191.4 100.2 L192.2 99.9 L193.1 99.5 L193.9 99.1 L194.7 98.8 L195.6 98.4 L196.4 98.0 L197.2 97.7 L198.0 97.3 L198.9 96.9 L199.7 96.5 L200.5 96.2 L201.4 95.8 L202.2 95.4 L203.0 95.1 L203.9 94.7 L204.7 94.3 L205.5 93.9 L206.3 93.6 L207.2 93.2 L208.0 92.8 L208.8 92.4 L209.7 92.1 L210.5 91.7 L211.3 91.3 L212.2 91.0 L213.0 90.6 L213.8 90.2 L214.6 89.8 L215.5 89.5 L216.3 89.1 L217.1 88.7 L218.0 88.4 L218.8 88.0 L219.6 87.6 L220.5 87.3 L221.3 86.9 L222.1 86.6 L222.9 86.3 L223.8 85.9 L224.6 85.6 L225.4 85.3 L226.3 84.9 L227.1 84.6 L227.9 84.3 L228.8 84.0 L229.6 83.6 L230.4 83.3 L231.2 83.0 L232.1 82.7 L232.9 82.4 L233.7 82.1 L234.6 81.7 L235.4 81.4 L236.2 81.1 L237.1 80.8 L237.9 80.5 L238.7 80.1 L239.5 79.8 L240.4 79.5 L241.2 79.2 L242.0 78.9 L242.9 78.6 L243.7 78.3 L244.5 78.0 L245.4 77.7 L246.2 77.4 L247.0 77.1 L247.8 76.8 L248.7 76.5 L249.5 76.2 L250.3 75.9 L251.2 75.6 L252.0 75.4 L252.8 75.1 L253.7 74.8 L254.5 74.6 L255.3 74.3 L256.1 74.0 L257.0 73.8 L257.8 73.5 L258.6 73.3 L259.5 73.1 L260.3 72.9 L261.1 72.6 L262.0 72.4 L262.8 72.2 L263.6 72.0 L264.4 71.8 L265.3 71.6 L266.1 71.4 L266.9 71.2 L267.8 71.0 L268.6 70.8 L269.4 70.7 L270.3 70.5 L271.1 70.3 L271.9 70.1 L272.7 69.9 L273.6 69.8 L274.4 69.6 L275.2 69.4 L276.1 69.3 L276.9 69.1 L277.7 68.9 L278.6 68.8 L279.4 68.6 L280.2 68.5 L281.0 68.3 L281.9 68.2 L282.7 68.0 L283.5 67.9 L284.4 67.7 L285.2 67.6 L286.0 67.5 L286.9 67.3 L287.7 67.2 L288.5 67.1 L289.3 66.9 L290.2 66.8 L291.0 66.7 L291.8 66.6 L292.7 66.5 L293.5 66.3 L294.3 66.2 L295.2 66.1 L296.0 66.0 L296.8 65.9 L297.6 65.8 L298.5 65.7 L299.3 65.6 L300.1 65.5 L301.0 65.4 L301.8 65.3 L302.6 65.2 L303.5 65.1 L304.3 65.1 L305.1 65.0 L306.0 64.9 L306.8 64.8 L307.6 64.7 L308.4 64.6 L309.3 64.6 L310.1 64.5 L310.9 64.4 L311.8 64.3 L312.6 64.3 L313.4 64.2 L314.3 64.1 L315.1 64.1 L315.9 64.0 L316.7 63.9 L317.6 63.9 L318.4 63.8 L319.2 63.8 L320.1 63.8 L320.9 63.7 L321.7 63.7 L322.6 63.7 L323.4 63.6 L324.2 63.6 L325.0 63.6 L325.9 63.6 L326.7 63.6 L327.5 63.6 L328.4 63.6 L329.2 63.5 L330.0 63.5 L330.9 63.5 L331.7 63.5 L332.5 63.5 L333.3 63.5 L334.2 63.5 L335.0 63.5 L335.8 63.5 L336.7 63.5 L337.5 63.5 L338.3 63.5 L339.2 63.5 L340.0 63.5 L340.8 63.5 L341.6 63.5 L342.5 63.5 L343.3 63.5 L344.1 63.5 L345.0 63.5 L345.8 63.5 L346.6 63.5 L347.5 63.5 L348.3 63.5 L349.1 63.5 L349.9 63.5 L350.8 63.5 L351.6 63.5 L352.4 63.5 L353.3 63.5 L354.1 63.5 L354.9 63.5 L355.8 63.5 L356.6 63.5 L357.4 63.5 L358.2 63.5 L359.1 63.5 L359.9 63.5 L360.7 63.5 L361.6 63.5 L362.4 63.5 L363.2 63.5 L364.1 63.5 L364.9 63.5 L365.7 63.5 L366.5 63.5 L367.4 63.5 L368.2 63.5 L369.0 63.5 L369.9 63.5 L370.7 63.5 L371.5 63.5 L372.4 63.5 L373.2 63.5 L374.0 63.5 L374.8 63.5 L375.7 63.5 L376.5 63.5 L377.3 63.5 L378.2 63.5 L379.0 63.5 L379.8 63.5 L380.7 63.5 L381.5 63.5 L382.3 63.5 L383.1 63.5 L384.0 63.5 L384.8 63.5 L385.6 63.5 L386.5 63.5 L387.3 63.5 L388.1 63.5 L389.0 63.5 L389.8 63.5 L390.6 63.5 L391.4 63.5 L392.3 63.5 L393.1 63.5 L393.9 63.5 L394.8 63.5 L395.6 63.5 L396.4 63.5 L397.3 63.5 L398.1 63.5 L398.9 63.5 L399.7 63.5 L400.6 63.5 L401.4 63.5 L402.2 63.5 L403.1 63.5 L403.9 63.5 L404.7 63.5 L405.6 63.5 L406.4 63.5 L407.2 63.5 L408.0 63.5 L408.9 63.5 L409.7 63.5 L410.5 63.5 L411.4 63.5 L412.2 63.5" stroke="#ffa436" stroke-width="1.15" stroke-dasharray="10 4.8"/>
<path d="M81.0 139.8 L81.8 139.5 L82.7 139.1 L83.5 138.8 L84.3 138.5 L85.2 138.1 L86.0 137.8 L86.8 137.4 L87.6 137.1 L88.5 136.7 L89.3 136.4 L90.1 136.0 L91.0 135.7 L91.8 135.3 L92.6 134.9 L93.5 134.6 L94.3 134.2 L95.1 133.8 L95.9 133.4 L96.8 133.1 L97.6 132.7 L98.4 132.3 L99.3 131.9 L100.1 131.5 L100.9 131.1 L101.8 130.7 L102.6 130.3 L103.4 129.9 L104.2 129.5 L105.1 129.1 L105.9 128.7 L106.7 128.3 L107.6 127.9 L108.4 127.5 L109.2 127.2 L110.1 126.8 L110.9 126.4 L111.7 126.0 L112.5 125.6 L113.4 125.2 L114.2 124.8 L115.0 124.4 L115.9 124.0 L116.7 123.6 L117.5 123.1 L118.4 122.7 L119.2 122.3 L120.0 121.9 L120.8 121.5 L121.7 121.0 L122.5 120.6 L123.3 120.2 L124.2 119.8 L125.0 119.3 L125.8 118.9 L126.7 118.4 L127.5 118.0 L128.3 117.6 L129.1 117.1 L130.0 116.7 L130.8 116.2 L131.6 115.8 L132.5 115.3 L133.3 114.9 L134.1 114.4 L135.0 114.0 L135.8 113.5 L136.6 113.1 L137.4 112.6 L138.3 112.2 L139.1 111.7 L139.9 111.3 L140.8 110.8 L141.6 110.4 L142.4 110.0 L143.3 109.5 L144.1 109.1 L144.9 108.7 L145.7 108.2 L146.6 107.8 L147.4 107.4 L148.2 107.0 L149.1 106.5 L149.9 106.1 L150.7 105.7 L151.6 105.3 L152.4 104.9 L153.2 104.5 L154.0 104.1 L154.9 103.7 L155.7 103.3 L156.5 102.9 L157.4 102.5 L158.2 102.1 L159.0 101.7 L159.9 101.3 L160.7 100.9 L161.5 100.5 L162.3 100.1 L163.2 99.8 L164.0 99.4 L164.8 99.0 L165.7 98.6 L166.5 98.2 L167.3 97.8 L168.2 97.5 L169.0 97.1 L169.8 96.7 L170.6 96.3 L171.5 95.9 L172.3 95.6 L173.1 95.2 L174.0 94.8 L174.8 94.4 L175.6 94.0 L176.5 93.6 L177.3 93.2 L178.1 92.9 L178.9 92.5 L179.8 92.1 L180.6 91.7 L181.4 91.3 L182.3 90.9 L183.1 90.5 L183.9 90.2 L184.8 89.8 L185.6 89.4 L186.4 89.0 L187.2 88.7 L188.1 88.3 L188.9 88.0 L189.7 87.7 L190.6 87.3 L191.4 87.0 L192.2 86.7 L193.1 86.4 L193.9 86.1 L194.7 85.8 L195.6 85.5 L196.4 85.2 L197.2 84.9 L198.0 84.6 L198.9 84.4 L199.7 84.1 L200.5 83.8 L201.4 83.6 L202.2 83.3 L203.0 83.0 L203.9 82.8 L204.7 82.5 L205.5 82.2 L206.3 81.9 L207.2 81.7 L208.0 81.4 L208.8 81.1 L209.7 80.8 L210.5 80.4 L211.3 80.1 L212.2 79.8 L213.0 79.5 L213.8 79.1 L214.6 78.8 L215.5 78.5 L216.3 78.2 L217.1 77.8 L218.0 77.5 L218.8 77.2 L219.6 76.9 L220.5 76.6 L221.3 76.3 L222.1 76.0 L222.9 75.7 L223.8 75.4 L224.6 75.2 L225.4 74.9 L226.3 74.6 L227.1 74.4 L227.9 74.1 L228.8 73.9 L229.6 73.6 L230.4 73.4 L231.2 73.2 L232.1 72.9 L232.9 72.7 L233.7 72.5 L234.6 72.3 L235.4 72.1 L236.2 71.9 L237.1 71.7 L237.9 71.5 L238.7 71.3 L239.5 71.1 L240.4 71.0 L241.2 70.8 L242.0 70.6 L242.9 70.5 L243.7 70.3 L244.5 70.2 L245.4 70.0 L246.2 69.9 L247.0 69.8 L247.8 69.6 L248.7 69.5 L249.5 69.4 L250.3 69.3 L251.2 69.2 L252.0 69.1 L252.8 68.9 L253.7 68.8 L254.5 68.7 L255.3 68.7 L256.1 68.6 L257.0 68.5 L257.8 68.4 L258.6 68.3 L259.5 68.2 L260.3 68.2 L261.1 68.1 L262.0 68.0 L262.8 68.0 L263.6 67.9 L264.4 67.8 L265.3 67.8 L266.1 67.7 L266.9 67.7 L267.8 67.6 L268.6 67.6 L269.4 67.5 L270.3 67.5 L271.1 67.4 L271.9 67.3 L272.7 67.3 L273.6 67.2 L274.4 67.2 L275.2 67.1 L276.1 67.1 L276.9 67.0 L277.7 67.0 L278.6 66.9 L279.4 66.9 L280.2 66.8 L281.0 66.8 L281.9 66.7 L282.7 66.6 L283.5 66.6 L284.4 66.5 L285.2 66.5 L286.0 66.4 L286.9 66.4 L287.7 66.3 L288.5 66.2 L289.3 66.2 L290.2 66.1 L291.0 66.0 L291.8 66.0 L292.7 65.9 L293.5 65.8 L294.3 65.8 L295.2 65.7 L296.0 65.6 L296.8 65.6 L297.6 65.5 L298.5 65.4 L299.3 65.3 L300.1 65.3 L301.0 65.2 L301.8 65.1 L302.6 65.1 L303.5 65.0 L304.3 64.9 L305.1 64.8 L306.0 64.8 L306.8 64.7 L307.6 64.6 L308.4 64.5 L309.3 64.5 L310.1 64.4 L310.9 64.3 L311.8 64.3 L312.6 64.2 L313.4 64.1 L314.3 64.1 L315.1 64.0 L315.9 64.0 L316.7 63.9 L317.6 63.9 L318.4 63.8 L319.2 63.8 L320.1 63.8 L320.9 63.7 L321.7 63.7 L322.6 63.7 L323.4 63.6 L324.2 63.6 L325.0 63.6 L325.9 63.6 L326.7 63.6 L327.5 63.6 L328.4 63.6 L329.2 63.5 L330.0 63.5 L330.9 63.5 L331.7 63.5 L332.5 63.5 L333.3 63.5 L334.2 63.5 L335.0 63.5 L335.8 63.5 L336.7 63.5 L337.5 63.5 L338.3 63.5 L339.2 63.5 L340.0 63.5 L340.8 63.5 L341.6 63.5 L342.5 63.5 L343.3 63.5 L344.1 63.5 L345.0 63.5 L345.8 63.5 L346.6 63.5 L347.5 63.5 L348.3 63.5 L349.1 63.5 L349.9 63.5 L350.8 63.5 L351.6 63.5 L352.4 63.5 L353.3 63.5 L354.1 63.5 L354.9 63.5 L355.8 63.5 L356.6 63.5 L357.4 63.5 L358.2 63.5 L359.1 63.5 L359.9 63.5 L360.7 63.5 L361.6 63.5 L362.4 63.5 L363.2 63.5 L364.1 63.5 L364.9 63.5 L365.7 63.5 L366.5 63.5 L367.4 63.5 L368.2 63.5 L369.0 63.5 L369.9 63.5 L370.7 63.5 L371.5 63.5 L372.4 63.5 L373.2 63.5 L374.0 63.5 L374.8 63.5 L375.7 63.5 L376.5 63.5 L377.3 63.5 L378.2 63.5 L379.0 63.5 L379.8 63.5 L380.7 63.5 L381.5 63.5 L382.3 63.5 L383.1 63.5 L384.0 63.5 L384.8 63.5 L385.6 63.5 L386.5 63.5 L387.3 63.5 L388.1 63.5 L389.0 63.5 L389.8 63.5 L390.6 63.5 L391.4 63.5 L392.3 63.5 L393.1 63.5 L393.9 63.5 L394.8 63.5 L395.6 63.5 L396.4 63.5 L397.3 63.5 L398.1 63.5 L398.9 63.5 L399.7 63.5 L400.6 63.5 L401.4 63.5 L402.2 63.5 L403.1 63.5 L403.9 63.5 L404.7 63.5 L405.6 63.5 L406.4 63.5 L407.2 63.5 L408.0 63.5 L408.9 63.5 L409.7 63.5 L410.5 63.5 L411.4 63.5 L412.2 63.5" stroke="#00ffff" stroke-width="1.60" stroke-dasharray="5.1 4.7"/>
</g>
<g fill="none">
<path d="M343.2 82.7 L369.6 82.7" stroke="#00ffff" stroke-width="1.60" stroke-dasharray="5.1 4.7"/>
<path d="M343.2 98.1 L369.6 98.1" stroke="#ffa436" stroke-width="1.15" stroke-dasharray="10 4.8"/>
<path d="M343.2 113.5 L369.6 113.5" stroke="#ff62ff" stroke-width="0.90" stroke-dasharray="7.8 2.3 1.2 2.6 1.2 2.6 1.2 2.1"/>
<path d="M343.2 128.9 L369.6 128.9" stroke="#c45fd0" stroke-width="1.40" stroke-dasharray="5.2 2.4 1 2.35"/>
<path d="M343.2 144.3 L369.6 144.3" stroke="#3580ff" stroke-width="1.05" stroke-dasharray="5.3 4.45"/>
<path d="M343.9 159.6 L369.6 159.6" stroke="#58ee32" stroke-width="1.35" stroke-dasharray="0.01 3.34" stroke-linecap="round"/>
<path d="M343.2 175.1 L369.6 175.1" stroke="#ff0000" stroke-width="1.65"/>
</g>
<rect x="80.65" y="25.40" width="330.85" height="165.05" fill="none" stroke="#000" stroke-width="1.25"/>
<path d="M81.00 190.45 v-3.30 M81.00 25.40 v3.30 M86.25 190.45 v-1.70 M86.25 25.40 v1.70 M91.50 190.45 v-1.70 M91.50 25.40 v1.70 M96.76 190.45 v-1.70 M96.76 25.40 v1.70 M102.01 190.45 v-1.70 M102.01 25.40 v1.70 M107.26 190.45 v-1.70 M107.26 25.40 v1.70 M112.51 190.45 v-1.70 M112.51 25.40 v1.70 M117.76 190.45 v-1.70 M117.76 25.40 v1.70 M123.01 190.45 v-1.70 M123.01 25.40 v1.70 M128.27 190.45 v-1.70 M128.27 25.40 v1.70 M133.52 190.45 v-3.30 M133.52 25.40 v3.30 M138.77 190.45 v-1.70 M138.77 25.40 v1.70 M144.02 190.45 v-1.70 M144.02 25.40 v1.70 M149.27 190.45 v-1.70 M149.27 25.40 v1.70 M154.52 190.45 v-1.70 M154.52 25.40 v1.70 M159.78 190.45 v-1.70 M159.78 25.40 v1.70 M165.03 190.45 v-1.70 M165.03 25.40 v1.70 M170.28 190.45 v-1.70 M170.28 25.40 v1.70 M175.53 190.45 v-1.70 M175.53 25.40 v1.70 M180.78 190.45 v-1.70 M180.78 25.40 v1.70 M186.03 190.45 v-3.30 M186.03 25.40 v3.30 M191.29 190.45 v-1.70 M191.29 25.40 v1.70 M196.54 190.45 v-1.70 M196.54 25.40 v1.70 M201.79 190.45 v-1.70 M201.79 25.40 v1.70 M207.04 190.45 v-1.70 M207.04 25.40 v1.70 M212.29 190.45 v-1.70 M212.29 25.40 v1.70 M217.55 190.45 v-1.70 M217.55 25.40 v1.70 M222.80 190.45 v-1.70 M222.80 25.40 v1.70 M228.05 190.45 v-1.70 M228.05 25.40 v1.70 M233.30 190.45 v-1.70 M233.30 25.40 v1.70 M238.55 190.45 v-3.30 M238.55 25.40 v3.30 M243.80 190.45 v-1.70 M243.80 25.40 v1.70 M249.06 190.45 v-1.70 M249.06 25.40 v1.70 M254.31 190.45 v-1.70 M254.31 25.40 v1.70 M259.56 190.45 v-1.70 M259.56 25.40 v1.70 M264.81 190.45 v-1.70 M264.81 25.40 v1.70 M270.06 190.45 v-1.70 M270.06 25.40 v1.70 M275.31 190.45 v-1.70 M275.31 25.40 v1.70 M280.57 190.45 v-1.70 M280.57 25.40 v1.70 M285.82 190.45 v-1.70 M285.82 25.40 v1.70 M291.07 190.45 v-3.30 M291.07 25.40 v3.30 M296.32 190.45 v-1.70 M296.32 25.40 v1.70 M301.57 190.45 v-1.70 M301.57 25.40 v1.70 M306.83 190.45 v-1.70 M306.83 25.40 v1.70 M312.08 190.45 v-1.70 M312.08 25.40 v1.70 M317.33 190.45 v-1.70 M317.33 25.40 v1.70 M322.58 190.45 v-1.70 M322.58 25.40 v1.70 M327.83 190.45 v-1.70 M327.83 25.40 v1.70 M333.08 190.45 v-1.70 M333.08 25.40 v1.70 M338.34 190.45 v-1.70 M338.34 25.40 v1.70 M343.59 190.45 v-3.30 M343.59 25.40 v3.30 M348.84 190.45 v-1.70 M348.84 25.40 v1.70 M354.09 190.45 v-1.70 M354.09 25.40 v1.70 M359.34 190.45 v-1.70 M359.34 25.40 v1.70 M364.59 190.45 v-1.70 M364.59 25.40 v1.70 M369.85 190.45 v-1.70 M369.85 25.40 v1.70 M375.10 190.45 v-1.70 M375.10 25.40 v1.70 M380.35 190.45 v-1.70 M380.35 25.40 v1.70 M385.60 190.45 v-1.70 M385.60 25.40 v1.70 M390.85 190.45 v-1.70 M390.85 25.40 v1.70 M396.10 190.45 v-3.30 M396.10 25.40 v3.30 M401.36 190.45 v-1.70 M401.36 25.40 v1.70 M406.61 190.45 v-1.70 M406.61 25.40 v1.70 M411.86 190.45 v-1.70 M411.86 25.40 v1.70 M81.00 184.43 h3.20 M411.86 184.43 h-3.20 M81.00 178.05 h3.20 M411.86 178.05 h-3.20 M81.00 171.68 h3.20 M411.86 171.68 h-3.20 M81.00 165.30 h6.20 M411.86 165.30 h-6.20 M81.00 158.93 h3.20 M411.86 158.93 h-3.20 M81.00 152.55 h3.20 M411.86 152.55 h-3.20 M81.00 146.17 h3.20 M411.86 146.17 h-3.20 M81.00 139.80 h6.20 M411.86 139.80 h-6.20 M81.00 133.43 h3.20 M411.86 133.43 h-3.20 M81.00 127.05 h3.20 M411.86 127.05 h-3.20 M81.00 120.67 h3.20 M411.86 120.67 h-3.20 M81.00 114.30 h6.20 M411.86 114.30 h-6.20 M81.00 107.92 h3.20 M411.86 107.92 h-3.20 M81.00 101.55 h3.20 M411.86 101.55 h-3.20 M81.00 95.17 h3.20 M411.86 95.17 h-3.20 M81.00 88.80 h6.20 M411.86 88.80 h-6.20 M81.00 82.42 h3.20 M411.86 82.42 h-3.20 M81.00 76.05 h3.20 M411.86 76.05 h-3.20 M81.00 69.67 h3.20 M411.86 69.67 h-3.20 M81.00 63.30 h6.20 M411.86 63.30 h-6.20 M81.00 56.92 h3.20 M411.86 56.92 h-3.20 M81.00 50.55 h3.20 M411.86 50.55 h-3.20 M81.00 44.17 h3.20 M411.86 44.17 h-3.20 M81.00 37.80 h6.20 M411.86 37.80 h-6.20 M81.00 31.42 h3.20 M411.86 31.42 h-3.20" stroke="#2a2a2a" stroke-width="0.65" fill="none"/>
<text x="76.4" y="170.7" font-size="14" text-anchor="end" letter-spacing="0.5">0.2</text>
<text x="76.4" y="145.2" font-size="14" text-anchor="end" letter-spacing="0.5">0.4</text>
<text x="76.4" y="119.7" font-size="14" text-anchor="end" letter-spacing="0.5">0.6</text>
<text x="76.4" y="94.2" font-size="14" text-anchor="end" letter-spacing="0.5">0.8</text>
<text x="76.4" y="68.7" font-size="14" text-anchor="end" letter-spacing="0.5">1.0</text>
<text x="76.4" y="43.2" font-size="14" text-anchor="end" letter-spacing="0.5">1.2</text>
<text x="76.4" y="190.7" font-size="14" text-anchor="end" letter-spacing="0.5">0.0</text>
<text x="81.1" y="209.8" font-size="14" text-anchor="middle" letter-spacing="1.7">−5</text>
<text x="133.6" y="209.8" font-size="14" text-anchor="middle" letter-spacing="1.7">−4</text>
<text x="186.1" y="209.8" font-size="14" text-anchor="middle" letter-spacing="1.7">−3</text>
<text x="238.7" y="209.8" font-size="14" text-anchor="middle" letter-spacing="1.7">−2</text>
<text x="291.2" y="209.8" font-size="14" text-anchor="middle" letter-spacing="1.7">−1</text>
<text x="343.7" y="209.8" font-size="14" text-anchor="middle" letter-spacing="1.7">0</text>
<text x="396.2" y="209.8" font-size="14" text-anchor="middle" letter-spacing="1.7">1</text>
<text x="218" y="227" font-size="12.8" letter-spacing="1.0">log</text>
<text x="244.6" y="227" font-size="14.5" font-style="italic">τ</text>
<text x="252.4" y="230.6" font-size="9.4" letter-spacing="0.1">5000</text>
<g transform="translate(43.9 106.4) rotate(-90)"><text x="0" y="0" font-size="13">b</text><text x="7.6" y="3.1" font-size="8.2">i</text></g>
<text x="90.9" y="38.9" font-size="10" letter-spacing="0.36">Ca I 8700/4.4</text>
<text transform="translate(369.00 83.00) scale(0.930 1)" font-size="10.2" letter-spacing="0.20">8d</text>
<text x="384.40" y="78.70" font-size="6.3" letter-spacing="0.00">1</text>
<text transform="translate(387.70 83.00) scale(0.820 1)" font-size="10.2" letter-spacing="0.00">D</text>
<text transform="translate(369.00 98.50) scale(0.930 1)" font-size="10.2" letter-spacing="0.20">5s</text>
<text x="384.40" y="94.20" font-size="6.3" letter-spacing="0.00">3</text>
<text transform="translate(387.30 98.50) scale(0.880 1)" font-size="10.2" letter-spacing="0.00">S</text>
<text transform="translate(369.00 114.00) scale(0.930 1)" font-size="10.2" letter-spacing="0.20">4p</text>
<text x="384.40" y="109.70" font-size="6.3" letter-spacing="0.00">1</text>
<text transform="translate(387.70 114.00) scale(0.840 1)" font-size="10.2" letter-spacing="0.00">P</text>
<text transform="translate(369.00 129.50) scale(0.930 1)" font-size="10.2" letter-spacing="0.20">3d</text>
<text x="384.40" y="125.20" font-size="6.3" letter-spacing="0.00">1</text>
<text transform="translate(387.70 129.50) scale(0.820 1)" font-size="10.2" letter-spacing="0.00">D</text>
<text transform="translate(369.00 145.05) scale(0.930 1)" font-size="10.2" letter-spacing="0.20">3d</text>
<text x="384.40" y="140.75" font-size="6.3" letter-spacing="0.00">3</text>
<text transform="translate(387.70 145.05) scale(0.820 1)" font-size="10.2" letter-spacing="0.00">D</text>
<text transform="translate(369.00 160.40) scale(0.930 1)" font-size="10.2" letter-spacing="0.20">4p</text>
<text x="384.40" y="156.10" font-size="6.3" letter-spacing="0.00">3</text>
<text transform="translate(387.70 160.40) scale(0.840 1)" font-size="10.2" letter-spacing="0.00">P</text>
<text transform="translate(369.00 176.00) scale(0.930 1)" font-size="10.2" letter-spacing="0.20">4s</text>
<text x="379.60" y="171.70" font-size="6.3" letter-spacing="0.00">2</text>
<text x="386.40" y="171.70" font-size="6.3" letter-spacing="0.00">1</text>
<text transform="translate(388.90 176.00) scale(0.880 1)" font-size="10.2" letter-spacing="0.00">S</text>
</svg></body></html>
